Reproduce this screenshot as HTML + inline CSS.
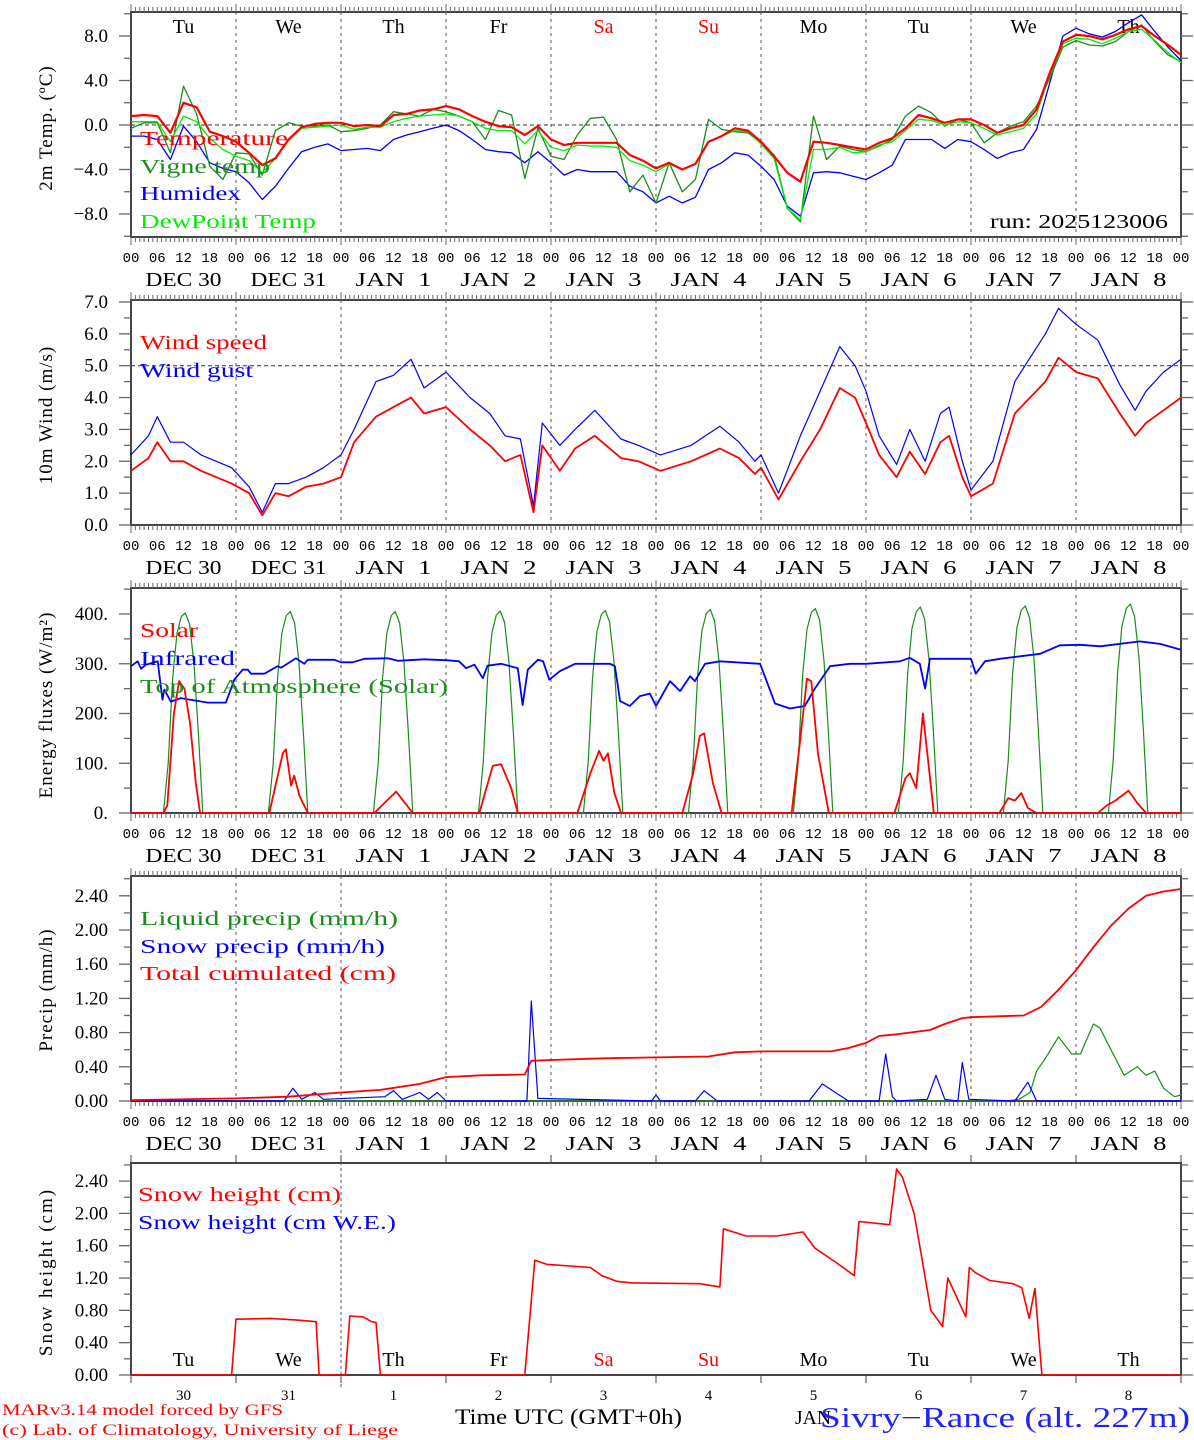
<!DOCTYPE html>
<html><head><meta charset="utf-8">
<style>
html,body{margin:0;padding:0;background:#fff;}
svg{display:block;font-family:"Liberation Serif",serif;}
</style></head>
<body>
<svg id="chart" width="1194" height="1440" viewBox="0 0 1194 1440" xmlns="http://www.w3.org/2000/svg"></svg>
<script>
// ---------- DATA ----------
var dayNames = ["Tu","We","Th","Fr","Sa","Su","Mo","Tu","We","Th"];
var dateLabels = ["DEC 30","DEC 31","JAN  1","JAN  2","JAN  3","JAN  4","JAN  5","JAN  6","JAN  7","JAN  8"];
var dayNumbers = ["30","31","1","2","3","4","5","6","7","8"];
var hourLabels = ["00","06","12","18"];

var tempT = [0.8,0.9,0.8,-0.7,2.0,1.6,-0.6,-1.0,
-1.5,-2.5,-3.6,-3.0,-1.3,-0.2,0.1,0.2,
0.2,-0.1,0.0,-0.1,0.9,1.0,1.3,1.4,
1.7,1.4,0.8,0.3,-0.1,-0.2,-0.9,-0.1,
-1.3,-1.8,-1.6,-1.6,-1.6,-1.6,-2.7,-3.2,
-3.9,-3.4,-4.0,-3.5,-1.5,-1.0,-0.3,-0.5,
-1.5,-2.8,-4.3,-5.1,-1.5,-1.6,-1.8,-2.0,
-2.2,-1.6,-1.2,-0.3,0.9,0.6,0.2,0.5,
0.5,0.0,-0.7,-0.3,0.0,1.4,4.7,7.5,
8.1,8.0,7.7,8.1,8.6,8.9,8.0,7.2,6.3];
var tempHumidex = [-1.0,-1.0,-1.3,-3.1,-0.1,-1.5,-3.4,-3.9,
-4.2,-5.2,-6.7,-5.5,-3.9,-2.4,-2.0,-1.7,
-2.3,-2.2,-2.1,-2.3,-1.3,-0.9,-0.6,-0.3,
0.0,-0.5,-1.3,-2.2,-2.4,-2.5,-3.4,-2.4,
-3.4,-4.5,-4.0,-4.2,-4.2,-4.2,-5.5,-6.0,
-7.0,-6.4,-7.0,-6.5,-4.0,-3.4,-2.5,-2.7,
-3.7,-4.9,-7.3,-8.2,-4.3,-4.2,-4.3,-4.6,
-4.9,-4.3,-3.6,-1.3,-1.3,-1.3,-2.1,-1.3,
-1.5,-2.2,-3.0,-2.5,-2.2,-0.4,3.8,8.0,
8.7,8.2,7.9,8.4,9.2,9.9,8.4,7.0,5.8];
var tempVigne = [-0.3,0.2,0.2,-2.5,3.5,1.0,-3.7,-4.9,
-2.5,-2.6,-4.5,-0.5,0.2,-0.1,-0.1,0.0,
-0.6,-0.5,-0.3,0.0,1.2,1.0,0.8,1.4,
1.2,0.8,0.3,-1.3,1.3,0.9,-4.8,-0.3,
-2.8,-3.1,-0.9,0.6,0.7,-1.3,-6.0,-4.5,
-7.0,-3.4,-6.0,-4.9,0.5,-0.4,-0.6,-0.7,
-1.6,-2.7,-7.5,-8.7,0.8,-3.1,-1.9,-2.2,
-2.4,-1.9,-1.3,0.8,1.7,1.1,-0.1,0.5,
0.2,-1.6,-0.7,-0.1,0.3,1.7,4.2,7.0,
7.6,7.2,7.1,7.5,8.4,9.0,7.5,6.3,5.7];
var tempDew = [0.3,0.3,0.3,-1.5,0.8,0.3,-1.2,-2.2,
-2.8,-3.2,-4.3,-3.0,-1.4,-0.3,-0.2,-0.1,
0.0,-0.4,-0.2,-0.2,0.3,0.6,0.8,0.9,
1.0,0.8,0.3,-0.3,-0.5,-0.5,-1.7,-0.5,
-2.0,-2.3,-1.8,-1.9,-1.9,-2.0,-3.2,-3.6,
-4.2,-3.5,-4.0,-3.5,-1.5,-1.0,-0.5,-0.6,
-1.7,-3.0,-7.5,-8.5,-2.2,-2.2,-2.0,-2.5,
-2.4,-1.8,-1.5,-0.5,0.5,0.4,0.0,0.3,
0.2,-0.3,-0.9,-0.6,-0.3,1.0,4.5,7.3,
7.8,7.7,7.3,7.8,8.4,8.6,7.6,6.5,5.6];

var windHours = [0,4,6,9,12,16,19.5,23,27,30,33,36,40,44,48,51,56,60,64,67,72,77.5,82,85.5,89,92,94,98,101.5,106,112,116,121,128,134.6,139,142.6,144,148,153,157.5,162,165.5,168,171,175,178,181.5,185,187,190,192,197,202,209,212,216,221,226,229.5,232,236,240];
var windSpeed = [1.7,2.1,2.6,2.0,2.0,1.7,1.5,1.3,1.0,0.3,1.0,0.9,1.2,1.3,1.5,2.6,3.4,3.7,4.0,3.5,3.7,3.0,2.5,2.0,2.2,0.4,2.5,1.7,2.4,2.8,2.1,2.0,1.7,2.0,2.4,2.1,1.6,1.8,0.8,2.0,3.0,4.3,4.0,3.2,2.2,1.5,2.3,1.6,2.6,2.8,1.5,0.9,1.3,3.5,4.5,5.25,4.8,4.6,3.5,2.8,3.2,3.6,4.0];
var windGust = [2.2,2.8,3.4,2.6,2.6,2.2,2.0,1.8,1.2,0.4,1.3,1.3,1.5,1.8,2.2,3.0,4.5,4.7,5.2,4.3,4.8,4.0,3.5,2.8,2.7,0.6,3.2,2.5,3.0,3.6,2.7,2.5,2.2,2.5,3.1,2.6,2.0,2.2,1.0,2.8,4.2,5.6,5.0,4.2,2.8,1.9,3.0,2.0,3.5,3.7,2.0,1.1,2.0,4.5,6.0,6.8,6.3,5.8,4.4,3.6,4.2,4.8,5.2];

var toaDayOffsets = [7.4,8.5,9.5,10.5,11.5,12.4,13.4,14.4,15.4,16.4];
var toaValues = [
0,100,270,360,395,402,380,300,160,0,
0,100,272,362,397,405,382,302,160,0,
0,100,272,362,397,405,382,302,160,0,
0,100,272,362,398,406,383,302,160,0,
0,102,274,364,399,407,384,304,162,0,
0,102,275,366,401,409,386,305,162,0,
0,103,276,368,403,411,388,306,163,0,
0,104,278,370,405,414,390,308,164,0,
0,105,280,372,408,416,392,310,165,0,
0,106,282,375,411,420,395,312,166,0];
var solarHours = [0,7.4,8.3,9.8,11,12.2,13.5,14.8,15.8,31.6,34.7,35.4,36.6,37.3,38.5,40.4,55.6,60.6,64.4,79.6,82.7,84.6,86.9,88.4,102,105,107,108,109,110.5,112,126,128.5,130,131,133,135,151,153,154.5,155.5,157,159.5,174.5,177,178,179.5,181,182,183.5,198.5,200.5,202,203.5,205,207,221,223,225,228,230,232,240];
var solarValues = [0,0,15,200,265,250,180,60,0,0,120,128,55,75,35,0,0,43,0,0,95,98,50,0,0,80,125,105,120,40,0,0,80,155,160,60,0,0,150,270,265,120,0,0,70,80,50,200,120,0,0,30,25,40,10,0,0,15,25,45,20,0,0];
var irHours = [0,1.5,2.3,3.4,6.1,7.2,7.6,9.1,11.4,17.5,21.7,23.6,25.5,26.7,27.4,30.5,33.5,34.3,37.7,39.6,40.4,46.5,48,50.7,53.3,58.7,61,67,72.4,75,76.6,78.5,80.4,81.5,84.6,88.4,89.5,90.7,93,94.2,95.6,98,101.5,109.5,110.6,111.8,114,116.3,118.6,120,123.2,125.5,127.8,128.9,131.2,134.6,143.8,147.2,150.6,154,156.3,159.8,164.3,168,175.8,178,180.3,181.5,182.6,192,193.1,195.2,198.6,207.8,212.3,216.9,221.5,230.6,235.2,240];
var irValues = [295,305,290,298,305,228,248,224,231,222,222,268,288,288,280,280,295,292,311,300,308,308,303,303,310,311,306,309,307,305,291,298,271,296,300,291,217,288,308,305,268,285,300,300,295,225,215,235,240,215,265,245,275,265,300,305,300,220,210,215,250,295,300,300,305,312,300,250,310,310,280,305,310,320,337,338,335,345,340,328];

var totHours = [0,24,36,48,57,66,72,80,90,91.5,96,108,120,132,138,144,160,164,168,171,175,182.6,186,190,192,204,208,212,216,220,224,228,232,236,240];
var totValues = [0.01,0.03,0.05,0.1,0.13,0.2,0.28,0.3,0.31,0.47,0.48,0.5,0.51,0.52,0.57,0.58,0.58,0.62,0.68,0.76,0.78,0.83,0.9,0.97,0.98,1.0,1.1,1.3,1.53,1.8,2.05,2.25,2.4,2.45,2.48];
var snowPHours = [0,35,37,39,42,44,58,60,62,66,68,70,72,90.5,91.5,93,119,120,121,129,131,134,155,158,161,164,171,172.5,174,175,182,184,186,189,190,191.5,202,205,207,240];
var snowPValues = [0,0,0.15,0.02,0.1,0.02,0.05,0.12,0.02,0.1,0.02,0.1,0,0,1.17,0.03,0,0.07,0,0,0.12,0,0,0.2,0.1,0,0,0.55,0.05,0,0.02,0.3,0.02,0,0.45,0.02,0,0.22,0,0];
var liqHours = [0,200,203,205.5,207,209,212,215,217,220,221.5,223,225,227,230,232,234,236,238.5,240];
var liqValues = [0,0,0.02,0.1,0.35,0.5,0.75,0.55,0.55,0.9,0.85,0.7,0.5,0.3,0.4,0.3,0.35,0.15,0.05,0.07];

var snowHHours = [0,23,24,32,38,42.3,43,49,50,53,55,56,57,90,92.3,95,105,107.6,111,114.5,130,134.6,135.4,140.6,147.6,153.6,156.3,161.5,165.3,166.4,173.4,175,176.3,179,180.6,182.8,185.5,186.7,190.8,191.6,193.2,196.3,201.6,203.6,205.3,206.6,208.2,240];
var snowHValues = [0,0,0.69,0.7,0.68,0.66,0,0,0.73,0.72,0.66,0.65,0,0,1.42,1.37,1.33,1.23,1.16,1.14,1.13,1.09,1.81,1.72,1.72,1.77,1.57,1.38,1.23,1.9,1.86,2.55,2.45,2.0,1.5,0.8,0.6,1.2,0.72,1.33,1.26,1.17,1.13,1.08,0.7,1.07,0,0];

// ---------- DRAWING ----------
var NS = "http://www.w3.org/2000/svg";
var svg = document.getElementById("chart");
var X0 = 131, X1 = 1181, PXH = 4.375;
function xs(h){ return X0 + h*PXH; }
function el(tag, parent){ var e = document.createElementNS(NS, tag); (parent||svg).appendChild(e); return e; }
function line(x1,y1,x2,y2,stroke,w,g,dash){
  var l = el("line", g);
  l.setAttribute("x1",x1); l.setAttribute("y1",y1); l.setAttribute("x2",x2); l.setAttribute("y2",y2);
  l.setAttribute("stroke",stroke); l.setAttribute("stroke-width",w);
  if(dash) l.setAttribute("stroke-dasharray",dash);
  return l;
}
function text(str,x,y,size,color,anchor,g,len){
  var t = el("text", g);
  t.setAttribute("x",x); t.setAttribute("y",y);
  t.setAttribute("font-size",size); t.setAttribute("fill",color||"#000");
  if(anchor) t.setAttribute("text-anchor",anchor);
  if(len){ t.setAttribute("textLength",len); t.setAttribute("lengthAdjust","spacingAndGlyphs"); }
  t.textContent = str;
  return t;
}
function series(hours, vals, ys, color, w, g, name){
  var p = el("polyline", g);
  var pts = [];
  for(var i=0;i<vals.length;i++) pts.push(xs(hours[i]).toFixed(1)+","+ys(vals[i]).toFixed(1));
  p.setAttribute("points", pts.join(" "));
  p.setAttribute("fill","none"); p.setAttribute("stroke",color); p.setAttribute("stroke-width",w);
  p.setAttribute("stroke-linejoin","round");
  
  
  return p;
}
var tempHours = [];
for (var i=0;i<=80;i++) tempHours.push(i*3);
var toaHours = [];
for (var d=0; d<10; d++) for (var j=0;j<toaDayOffsets.length;j++) toaHours.push(d*24+toaDayOffsets[j]);
var toaH = [0].concat(toaHours).concat([240]);
var toaV = [0].concat(toaValues).concat([0]);

var panels = [
 {name:"temperature-panel", top:12, bot:237, y0:125, k:11.125, vmin:-10, vmax:10, major:4, minor:2, fmt:function(v){return (v<0?"\u2212":"")+Math.abs(v).toFixed(1);}, title:"2m Temp. (\u00baC)", titleY:128},
 {name:"wind-panel", top:300, bot:525, y0:525, k:31.86, vmin:0, vmax:7, major:1, minor:0.5, fmt:function(v){return v.toFixed(1);}, title:"10m Wind (m/s)", titleY:415},
 {name:"energy-panel", top:588, bot:813, y0:813, k:0.4975, vmin:0, vmax:450, major:100, minor:50, fmt:function(v){return v.toFixed(0)+".";}, title:"Energy fluxes (W/m\u00b2)", titleY:705},
 {name:"precip-panel", top:876, bot:1101, y0:1101, k:85.5, vmin:0, vmax:2.6, major:0.4, minor:0.2, fmt:function(v){return v.toFixed(2);}, title:"Precip (mm/h)", titleY:990},
 {name:"snow-panel", top:1163, bot:1375, y0:1375, k:80.8, vmin:0, vmax:2.6, major:0.4, minor:0.2, fmt:function(v){return v.toFixed(2);}, title:"Snow height (cm)", titleY:1272}
];

panels.forEach(function(P, pi){
  var g = el("g");
  
  
  P.ys = function(v){ return P.y0 - v*P.k; };
  var isSnow = (pi===4);
  if(!isSnow){
    for(var d=1; d<10; d++){
      var gl = line(xs(d*24),P.top,xs(d*24),P.bot,"#555",1,g,"3,4");
      
      
    }
  } else {
    var gl2 = line(xs(48),1150,xs(48),1390,"#555",1,g,"3,3");
    
    
  }
  if(pi===0){ var zl=line(X0,P.ys(0),X1,P.ys(0),"#333",1,g,"4,3");   }
  if(pi===1){ var fl=line(X0,P.ys(5),X1,P.ys(5),"#333",1,g,"4,3");   }
  var r = el("rect", g);
  r.setAttribute("x",X0); r.setAttribute("y",P.top); r.setAttribute("width",X1-X0); r.setAttribute("height",P.bot-P.top);
  r.setAttribute("fill","none"); r.setAttribute("stroke","#444"); r.setAttribute("stroke-width",2);
  
  
  if(!isSnow){
    for(var h=0; h<=240; h++){
      var isDay = (h%24===0);
      var len = isDay?8:5;
      line(xs(h),P.top-len,xs(h),P.top,"#666",1,g);
      line(xs(h),P.bot,xs(h),P.bot+len,"#666",1,g);
    }
    for(var d2=0; d2<=10; d2++){
      for(var q=0;q<4;q++){
        if(d2===10 && q>0) break;
        var hl = text(hourLabels[q], xs(d2*24+q*6), P.bot+25, 14, "#000", "middle", g);
        hl.setAttribute("font-family","Liberation Mono, monospace");
        
        
      }
      if(d2<10){
        var dl = text(dateLabels[d2], xs(d2*24+12), P.bot+49, 20, "#000", "middle", g, 76);
        dl.setAttribute("xml:space","preserve");
        dl.style.whiteSpace = "pre";
        
        
      }
    }
  } else {
    for(var d3=0; d3<=10; d3++){
      line(xs(d3*24),P.top-8,xs(d3*24),P.top,"#444",1,g);
      line(xs(d3*24),P.bot,xs(d3*24),P.bot+8,"#444",1,g);
      if(d3<10){
        var nl = text(dayNumbers[d3], xs(d3*24+12), 1400, 15, "#000", "middle", g);
        
        
      }
    }
  }
  var n = Math.round((P.vmax-P.vmin)/P.minor);
  for(var i2=0;i2<=n;i2++){
    var v = P.vmin + i2*P.minor;
    var yy = P.ys(v);
    if(yy < P.top-0.5 || yy > P.bot+0.5) continue;
    var maj = Math.abs(v/P.major - Math.round(v/P.major))<1e-6;
    var tl = maj?12:7;
    line(X0-tl,yy,X0,yy,"#666",1.3,g);
    line(X1,yy,X1+tl,yy,"#666",1.3,g);
    if(maj){
      var lab = text(P.fmt(v), 108, yy+6, 19, "#000", "end", g);
      
      
    }
  }
  var tt = text(P.title, 0, 0, 19, "#000", "middle", g);
  tt.setAttribute("transform","translate(52,"+P.titleY+") rotate(-90)");
  tt.setAttribute("letter-spacing", isSnow ? "2" : "1");
  
  
  for(var d4=0; d4<10; d4++){
    var red = (d4===4||d4===5);
    var dn = text(dayNames[d4], xs(d4*24+12), (pi===0?33:(isSnow?1366:-100)), 20, red?"#f00":"#000", "middle", g);
    if(pi!==0 && !isSnow) dn.setAttribute("display","none");
    
    
  }
});

var P1=panels[0], P2=panels[1], P3=panels[2], P4=panels[3], P5=panels[4];
series(tempHours, tempHumidex, P1.ys, "#00f", 1.3, svg, "humidex-line");
series(tempHours, tempVigne, P1.ys, "#1a8c1a", 1.3, svg, "vigne-temp-line");
series(tempHours, tempDew, P1.ys, "#00ee00", 1.3, svg, "dewpoint-line");
series(tempHours, tempT, P1.ys, "#f00", 2.2, svg, "temperature-line");
series(windHours, windGust, P2.ys, "#00f", 1.2, svg, "wind-gust-line");
series(windHours, windSpeed, P2.ys, "#f00", 1.8, svg, "wind-speed-line");
series(toaH, toaV, P3.ys, "#1a8c1a", 1.2, svg, "toa-solar-line");
series(irHours, irValues, P3.ys, "#00f", 1.8, svg, "infrared-line");
series(solarHours, solarValues, P3.ys, "#f00", 1.8, svg, "solar-line");
series(liqHours, liqValues, P4.ys, "#1a8c1a", 1.2, svg, "liquid-precip-line");
series(snowPHours, snowPValues, P4.ys, "#00f", 1.2, svg, "snow-precip-line");
series(totHours, totValues, P4.ys, "#f00", 1.8, svg, "total-cumulated-line");
series(snowHHours, snowHValues, P5.ys, "#f00", 1.6, svg, "snow-height-line");

function legend(str,x,y,color,len,name){
  var t = text(str,x,y,20,color,"start",svg,len);
  
  
}
legend("Temperature",140,145,"#f00",148,"legend-temperature");
legend("Vigne temp",140,173,"#1a8c1a",130,"legend-vigne-temp");
legend("Humidex",140,200,"#00f",101,"legend-humidex");
legend("DewPoint Temp",140,228,"#00ee00",176,"legend-dewpoint");
legend("run: 2025123006",990,228,"#000",178,"run-label");
legend("Wind speed",140,349,"#f00",127,"legend-wind-speed");
legend("Wind gust",140,377,"#00f",113,"legend-wind-gust");
legend("Solar",140,637,"#f00",58,"legend-solar");
legend("Infrared",140,665,"#00f",95,"legend-infrared");
legend("Top of Atmosphere (Solar)",140,693,"#1a8c1a",308,"legend-toa");
legend("Liquid precip (mm/h)",140,925,"#1a8c1a",258,"legend-liquid-precip");
legend("Snow precip (mm/h)",140,953,"#00f",245,"legend-snow-precip");
legend("Total cumulated (cm)",140,980,"#f00",256,"legend-total-cumulated");
legend("Snow height (cm)",138,1201,"#f00",203,"legend-snow-height");
legend("Snow height (cm W.E.)",138,1229,"#00f",258,"legend-snow-height-we");

function foot(str,x,y,size,color,len,name,anchor){
  var t = text(str,x,y,size,color,anchor||"start",svg,len);
  
  
}
foot("MARv3.14 model forced by GFS",2,1415,16,"#f00",281,"model-credit");
foot("(c) Lab. of Climatology, University of Liege",2,1435,16,"#f00",396,"lab-credit");
foot("Time UTC (GMT+0h)",455,1424,22,"#000",227,"x-axis-title");
foot("JAN",795,1424,20,"#000",36,"month-label");
foot("Sivry\u2212Rance (alt. 227m)",820,1427,28,"#2222ff",370,"station-title");
</script>
</body></html>
